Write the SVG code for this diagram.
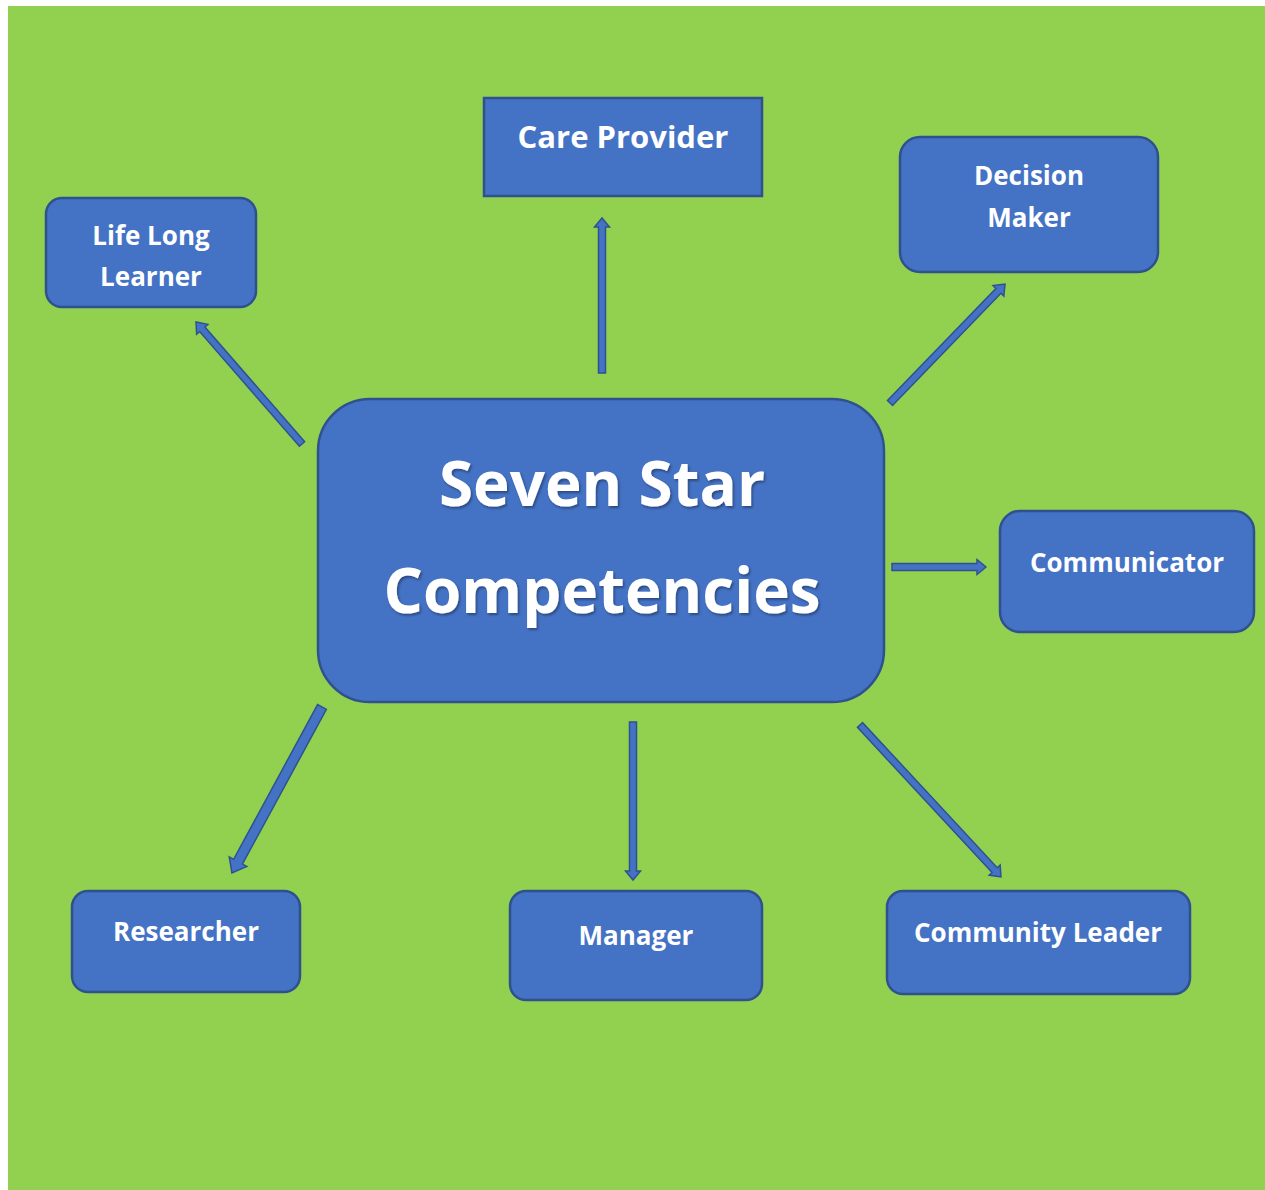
<svg xmlns="http://www.w3.org/2000/svg" width="1265" height="1190" viewBox="0 0 1265 1190">
<defs>
<filter id="sh" x="-10%" y="-20%" width="120%" height="140%">
<feDropShadow dx="1.5" dy="2" stdDeviation="1.2" flood-color="#000000" flood-opacity="0.35"/>
</filter>
</defs>
<style>
.box{fill:#4472C4;stroke:#2F528F;stroke-width:2.5}
.arr{fill:#4472C4;stroke:#2F528F;stroke-width:1.5;stroke-linejoin:miter}
.t{font-family:"Open Sans","Liberation Sans",sans-serif;font-weight:bold;fill:#FFFFFF;text-anchor:middle;font-size:26px}
.big{font-size:62px}
.cp{font-size:31px}
</style>
<rect x="0" y="0" width="1265" height="1190" fill="#FFFFFF"/>
<rect x="8" y="6" width="1257" height="1184" fill="#92D050"/>
<g id="connectors">
<polygon class="arr" transform="translate(602,373) rotate(-90)" points="0,-3.5 0,3.5 146,3.5 146,7.5 155,0 146,-7.5 146,-3.5"/>
<polygon class="arr" transform="translate(890,403) rotate(-45.97)" points="0,-3.5 0,3.5 156,3.5 156,7.5 165.5,0 156,-7.5 156,-3.5"/>
<polygon class="arr" transform="translate(302,444) rotate(-131)" points="0,-3.5 0,3.5 152,3.5 152,7.5 161.6,0 152,-7.5 152,-3.5"/>
<polygon class="arr" transform="translate(892,567) rotate(0)" points="0,-3.5 0,3.5 85,3.5 85,7.5 94,0 85,-7.5 85,-3.5"/>
<polygon class="arr" transform="translate(322,707) rotate(118.5)" points="0,-5 0,5 176,5 176,10 188.8,0 176,-10 176,-5"/>
<polygon class="arr" transform="translate(633,722) rotate(90)" points="0,-3.5 0,3.5 149,3.5 149,7.5 158,0 149,-7.5 149,-3.5"/>
<polygon class="arr" transform="translate(860,725) rotate(47.15)" points="0,-3.5 0,3.5 198,3.5 198,7.5 207.3,0 198,-7.5 198,-3.5"/>
</g>
<g id="center">
<rect class="box" x="318" y="399" width="566" height="303" rx="52"/>
<text class="t big" x="602" y="506" filter="url(#sh)">Seven Star</text>
<text class="t big" x="602" y="613" filter="url(#sh)">Competencies</text>
</g>
<g id="care-provider">
<rect class="box" x="484" y="98" width="278" height="98"/>
<text class="t cp" x="623" y="148">Care Provider</text>
</g>
<g id="decision-maker">
<rect class="box" x="900" y="137" width="258" height="135" rx="20"/>
<text class="t" x="1029" y="185">Decision</text>
<text class="t" x="1029" y="227">Maker</text>
</g>
<g id="life-long-learner">
<rect class="box" x="46" y="198" width="210" height="109" rx="16"/>
<text class="t" x="151" y="245">Life Long</text>
<text class="t" x="151" y="286">Learner</text>
</g>
<g id="communicator">
<rect class="box" x="1000" y="511" width="254" height="121" rx="20"/>
<text class="t" x="1127" y="572">Communicator</text>
</g>
<g id="researcher">
<rect class="box" x="72" y="891" width="228" height="101" rx="16"/>
<text class="t" x="186" y="941">Researcher</text>
</g>
<g id="manager">
<rect class="box" x="510" y="891" width="252" height="109" rx="16"/>
<text class="t" x="636" y="945">Manager</text>
</g>
<g id="community-leader">
<rect class="box" x="887" y="891" width="303" height="103" rx="16"/>
<text class="t" x="1038" y="942">Community Leader</text>
</g>
</svg>
